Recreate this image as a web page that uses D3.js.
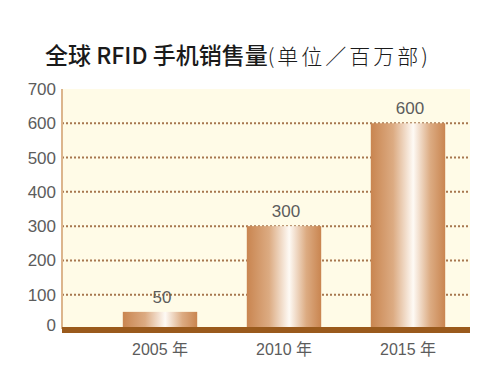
<!DOCTYPE html>
<html>
<head>
<meta charset="utf-8">
<script src="https://cdn.jsdelivr.net/npm/d3@7"></script>
<style>
  body { margin: 0; background: #fff; }
  svg { display: block; }
</style>
</head>
<body>
<script>
var years = ["2005 年", "2010 年", "2015 年"];
var sales = [50, 300, 600];
var yTicks = [0, 100, 200, 300, 400, 500, 600, 700];

var W = 500, H = 378;
var plotLeft = 62, plotRight = 470, plotTop = 89, plotBottom = 329;

var svg = d3.select("body").append("svg")
  .attr("width", W)
  .attr("height", H);

var defs = svg.append("defs");
var grad = defs.append("linearGradient")
  .attr("id", "barGrad")
  .attr("x1", "0%").attr("x2", "100%")
  .attr("y1", "0%").attr("y2", "0%");
grad.append("stop").attr("offset", "0%").attr("stop-color", "#c98550");
grad.append("stop").attr("offset", "30%").attr("stop-color", "#dcab82");
grad.append("stop").attr("offset", "57%").attr("stop-color", "#fefaf5");
grad.append("stop").attr("offset", "80%").attr("stop-color", "#dcab82");
grad.append("stop").attr("offset", "100%").attr("stop-color", "#c98550");

var x = d3.scaleBand()
  .domain(years)
  .range([98, 470])
  .paddingInner(0.4)
  .paddingOuter(0.2);

var y = d3.scaleLinear()
  .domain([0, 700])
  .range([plotBottom, plotTop]);

// title
var title = svg.append("text")
  .attr("x", 45)
  .attr("y", 64)
  .attr("fill", "#1a1a1a");
title.append("tspan")
  .style("font-family", "'Noto Sans CJK SC', sans-serif")
  .style("font-size", "23px")
  .style("font-weight", "500")
  .text("全球 RFID 手机销售量");
title.append("tspan")
  .style("font-family", "'Noto Sans CJK SC', sans-serif")
  .style("font-size", "21px")
  .style("font-weight", "300")
  .style("letter-spacing", "3px")
  .text("(单位／百万部)");

// plot background
svg.append("rect")
  .attr("x", plotLeft)
  .attr("y", plotTop)
  .attr("width", plotRight - plotLeft)
  .attr("height", plotBottom - plotTop)
  .attr("fill", "#fffbe7");

// dotted gridlines
svg.append("g")
  .selectAll("line")
  .data(yTicks.filter(function (d) { return d > 0 && d < 700; }))
  .enter().append("line")
  .attr("x1", plotLeft)
  .attr("x2", plotRight)
  .attr("y1", function (d) { return y(d); })
  .attr("y2", function (d) { return y(d); })
  .attr("stroke", "#a7774f")
  .attr("stroke-width", 2)
  .attr("stroke-dasharray", "2,2");

// left axis line
svg.append("line")
  .attr("x1", plotLeft).attr("x2", plotLeft)
  .attr("y1", plotTop).attr("y2", plotBottom)
  .attr("stroke", "#dcb58c")
  .attr("stroke-width", 2);

// y axis labels
var yAxis = d3.axisLeft(y).tickValues(yTicks).tickSize(0).tickPadding(6);
var gy = svg.append("g")
  .attr("transform", "translate(" + plotLeft + ",0)")
  .call(yAxis);
gy.select(".domain").remove();
gy.selectAll("text")
  .style("font-family", "'Liberation Sans', Arial, sans-serif")
  .style("font-size", "17px")
  .attr("fill", "#5c5c5c");
gy.selectAll(".tick")
  .filter(function (d) { return d === 0; })
  .select("text")
  .attr("dy", "0.1em");

// bars
svg.append("g")
  .selectAll("rect")
  .data(sales)
  .enter().append("rect")
  .attr("x", function (d, i) { return x(years[i]); })
  .attr("y", function (d) { return y(d); })
  .attr("width", x.bandwidth())
  .attr("height", function (d) { return y(0) - y(d); })
  .attr("fill", "url(#barGrad)");

// value labels
svg.append("g")
  .selectAll("text")
  .data(sales)
  .enter().append("text")
  .attr("x", function (d, i) { return x(years[i]) + x.bandwidth() / 2 + 2; })
  .attr("y", function (d) { return y(d) - 9; })
  .attr("text-anchor", "middle")
  .style("font-family", "'Liberation Sans', Arial, sans-serif")
  .style("font-size", "17px")
  .attr("fill", "#5c5c5c")
  .text(function (d) { return d; });

// bottom axis bar
svg.append("rect")
  .attr("x", plotLeft)
  .attr("y", plotBottom - 2)
  .attr("width", plotRight - plotLeft)
  .attr("height", 6)
  .attr("fill", "#9a5a1c");

// x axis labels
var xAxis = d3.axisBottom(x).tickSize(0).tickPadding(11);
var gx = svg.append("g")
  .attr("transform", "translate(0," + (plotBottom + 4) + ")")
  .call(xAxis);
gx.select(".domain").remove();
gx.selectAll("text")
  .style("font-family", "'Liberation Sans', 'Noto Sans CJK SC', sans-serif")
  .style("font-size", "16px")
  .attr("fill", "#5c5c5c");
</script>
</body>
</html>
